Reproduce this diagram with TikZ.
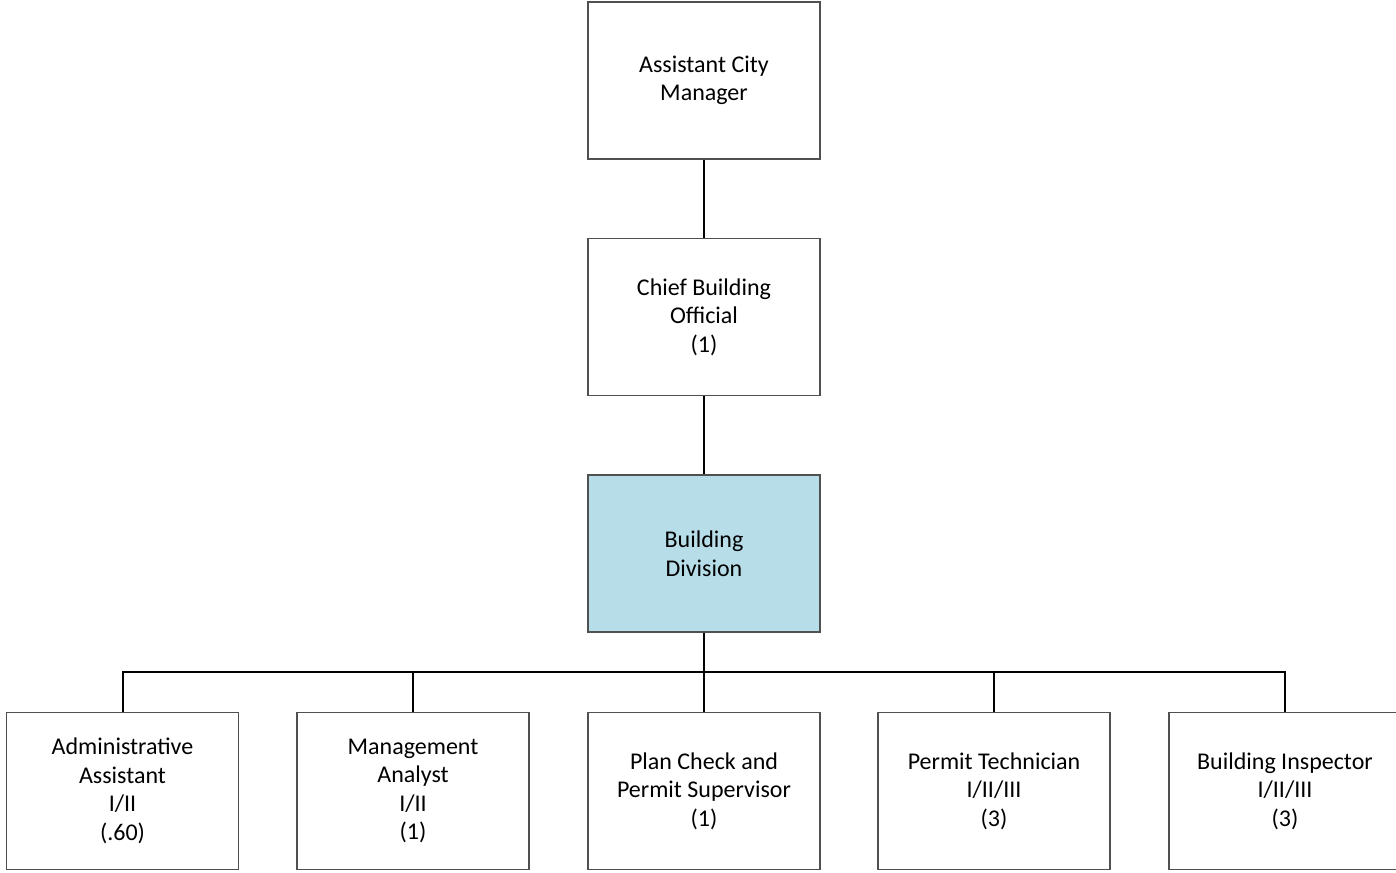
\documentclass[tikz,border=0pt]{standalone}
\usepackage{fontspec}
\setmainfont{Carlito}
\definecolor{boxline}{HTML}{505050}
\definecolor{bdfill}{HTML}{B7DDE8}
\tikzset{
  orgbox/.style={draw=boxline, line width=1.2pt, fill=white, minimum width=232pt, minimum height=157pt, inner sep=0pt, align=center, font=\fontsize{24pt}{28.5pt}\selectfont},
  conn/.style={draw=black, line width=2pt}
}
\begin{document}
\begin{tikzpicture}[x=1pt,y=-1pt]
\useasboundingbox (0,0) rectangle (1396,872);
\node[orgbox] (acm) at (704,80.5) {Assistant City\\Manager};
\node[orgbox] (cbo) at (704,317) {Chief Building\\Official\\(1)};
\node[orgbox, fill=bdfill] (bd) at (704,553.5) {Building\\Division};
\node[orgbox] (b1) at (122.5,791) {Administrative\\Assistant\\I/II\\(.60)};
\node[orgbox] (b2) at (413,791) {Management\\Analyst\\I/II\\(1)};
\node[orgbox] (b3) at (704,791) {Plan Check and\\Permit Supervisor\\(1)};
\node[orgbox] (b4) at (994,791) {Permit Technician\\I/II/III\\(3)};
\node[orgbox] (b5) at (1285,791) {Building Inspector\\I/II/III\\(3)};
\coordinate (bus) at (704,672);
\draw[conn] (acm.south) -- (cbo.north);
\draw[conn] (cbo.south) -- (bd.north);
\draw[conn] (bd.south) -- (b3.north);
\draw[conn] (b1.north) |- (bus);
\draw[conn] (b2.north) |- (bus);
\draw[conn] (b4.north) |- (bus);
\draw[conn] (b5.north) |- (bus);
\end{tikzpicture}
\end{document}
